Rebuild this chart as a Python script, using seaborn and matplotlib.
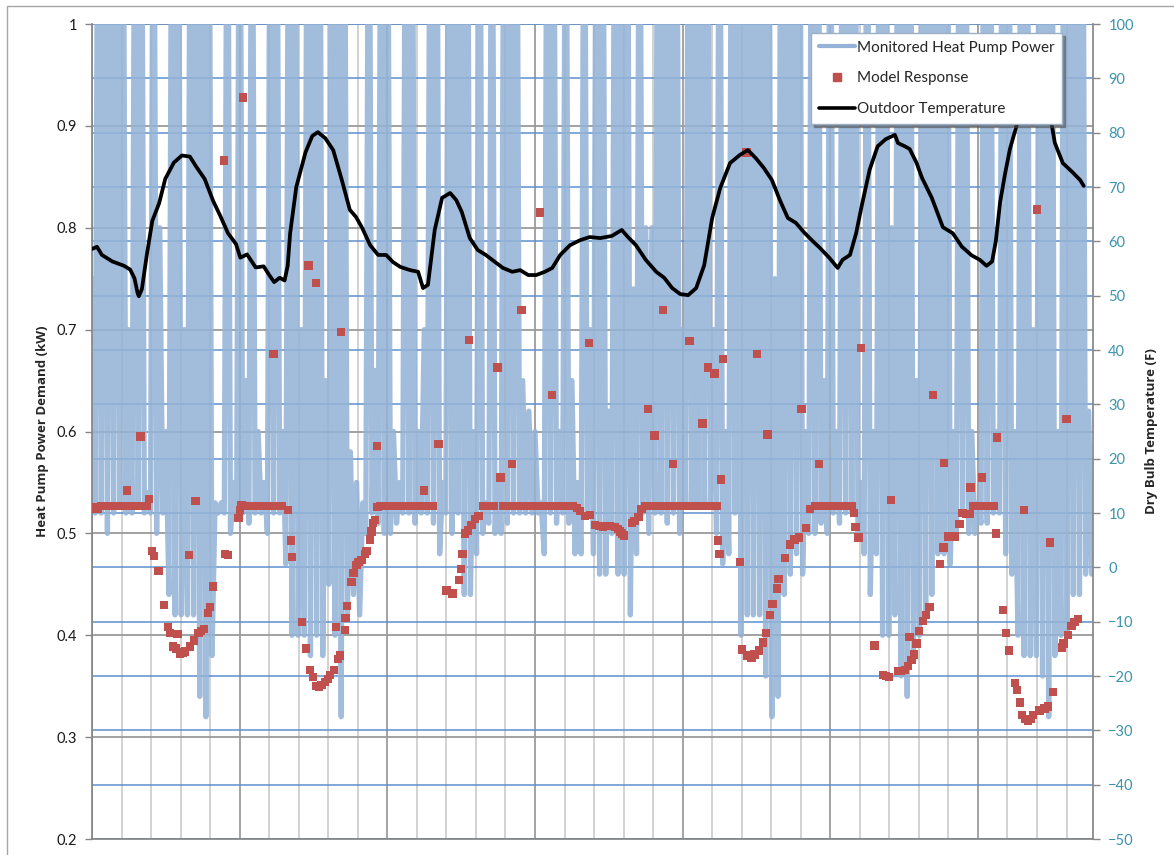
import numpy as np
import matplotlib
matplotlib.use('Agg')
import matplotlib.pyplot as plt
import matplotlib.transforms as mtransforms
from matplotlib.lines import Line2D
from matplotlib.patches import Rectangle
import seaborn as sns

# Monitored heat pump power (kW): one peak and one trough per hour, half an hour apart
power_peaks = [
    0.75, 1.3, 1.3, 1.3, 1.3, 1.3, 0.70, 1.3, 1.3, 0.54, 1.3, 0.80,
    0.60, 1.3, 1.3, 0.70, 1.3, 1.3, 1.3, 1.3, 0.53, 0.53, 1.3, 0.55,
    1.3, 0.65, 1.3, 0.60, 0.55, 1.3, 1.3, 0.60, 1.3, 1.3, 0.70, 1.3,
    1.3, 1.3, 0.65, 1.3, 1.3, 1.3, 0.58, 0.55, 0.53, 1.3, 0.66, 1.3,
    1.3, 0.60, 0.55, 1.3, 1.3, 0.60, 0.70, 1.3, 1.3, 0.55, 1.3, 1.3,
    1.3, 1.3, 0.60, 1.3, 0.53, 1.3, 0.55, 1.3, 1.3, 1.3, 0.65, 0.62,
    0.60, 0.53, 1.3, 1.3, 0.60, 1.3, 0.65, 0.55, 1.3, 0.70, 1.3, 1.3,
    0.62, 1.3, 1.3, 1.3, 0.74, 1.3, 0.80, 0.80, 1.3, 1.3, 1.3, 1.3,
    0.70, 1.3, 1.3, 1.3, 1.3, 0.70, 1.3, 0.60, 1.3, 1.3, 1.3, 1.3,
    1.3, 1.3, 1.3, 0.75, 1.3, 1.3, 1.3, 1.3, 0.60, 1.3, 1.3, 0.65,
    1.3, 0.60, 1.3, 1.3, 1.3, 0.55, 1.3, 0.60, 1.3, 1.3, 0.80, 1.3,
    1.3, 1.3, 0.65, 1.3, 1.3, 1.3, 1.3, 1.3, 0.60, 1.3, 1.3, 0.60,
    0.53, 1.3, 1.3, 0.60, 1.3, 1.3, 0.60, 1.3, 1.3, 0.70, 1.3, 1.3,
    1.3, 0.60, 1.3, 1.3, 1.3, 1.3, 0.62,
]
power_troughs = [
    0.52, 0.52, 0.50, 0.52, 0.53, 0.52, 0.52, 0.53, 0.52, 0.52, 0.50, 0.52,
    0.44, 0.42, 0.42, 0.42, 0.42, 0.34, 0.32, 0.38, 0.52, 0.52, 0.50, 0.52,
    0.52, 0.51, 0.52, 0.52, 0.50, 0.52, 0.52, 0.47, 0.40, 0.40, 0.40, 0.38,
    0.40, 0.38, 0.45, 0.40, 0.32, 0.42, 0.44, 0.42, 0.50, 0.52, 0.51, 0.50,
    0.50, 0.51, 0.52, 0.52, 0.51, 0.52, 0.52, 0.51, 0.48, 0.52, 0.50, 0.52,
    0.44, 0.44, 0.48, 0.50, 0.51, 0.50, 0.50, 0.51, 0.52, 0.52, 0.52, 0.52,
    0.52, 0.48, 0.52, 0.51, 0.52, 0.51, 0.48, 0.48, 0.52, 0.48, 0.46, 0.46,
    0.50, 0.46, 0.46, 0.42, 0.48, 0.52, 0.50, 0.52, 0.52, 0.51, 0.52, 0.50,
    0.53, 0.53, 0.53, 0.53, 0.53, 0.50, 0.47, 0.48, 0.52, 0.40, 0.42, 0.42,
    0.42, 0.36, 0.32, 0.34, 0.44, 0.46, 0.48, 0.46, 0.50, 0.50, 0.51, 0.50,
    0.52, 0.51, 0.52, 0.52, 0.50, 0.48, 0.44, 0.48, 0.40, 0.40, 0.42, 0.36,
    0.34, 0.38, 0.40, 0.42, 0.44, 0.48, 0.48, 0.47, 0.50, 0.52, 0.50, 0.50,
    0.51, 0.51, 0.52, 0.52, 0.48, 0.46, 0.40, 0.38, 0.38, 0.38, 0.36, 0.32,
    0.38, 0.40, 0.40, 0.44, 0.44, 0.46, 0.46,
]

# Model response (kW) at the times it was plotted (hours)
model_hours = [
    0.0, 0.5, 1.0, 1.5, 2.0, 2.4, 2.9, 3.4, 3.9, 4.4,
    4.9, 5.4, 5.7, 6.3, 6.8, 7.3, 7.9, 8.5, 8.9, 9.3,
    9.7, 10.1, 10.8, 11.7, 12.4, 12.7, 13.2, 13.7, 13.9, 14.3,
    14.7, 15.1, 15.8, 15.9, 16.6, 16.8, 17.3, 17.7, 18.2, 18.9,
    19.2, 19.7, 21.4, 21.6, 22.1, 23.8, 24.1, 24.3, 24.5, 24.9,
    25.4, 25.8, 26.3, 26.8, 27.3, 27.8, 28.3, 28.8, 29.5, 29.9,
    30.4, 30.9, 31.9, 32.3, 32.5, 34.1, 34.8, 35.2, 35.4, 35.9,
    36.4, 36.5, 36.9, 37.3, 37.9, 38.3, 38.7, 39.3, 39.7, 40.0,
    40.3, 40.5, 41.1, 41.2, 41.4, 42.2, 42.5, 43.0, 43.3, 43.8,
    44.4, 44.6, 45.2, 45.4, 45.7, 46.0, 46.3, 46.4, 46.8, 47.3,
    47.8, 48.3, 48.8, 49.2, 49.7, 50.2, 50.7, 51.2, 51.7, 52.2,
    52.7, 53.1, 53.6, 54.0, 54.6, 55.1, 55.4, 56.3, 57.6, 58.6,
    59.7, 60.0, 60.2, 60.6, 61.1, 61.3, 61.7, 62.2, 62.8, 63.6,
    64.0, 64.4, 64.8, 65.3, 65.9, 66.4, 66.8, 67.3, 67.8, 68.3,
    68.7, 69.2, 69.8, 70.2, 70.7, 71.2, 71.7, 72.2, 72.8, 73.1,
    73.6, 74.1, 74.8, 75.1, 75.6, 76.1, 77.2, 77.7, 78.1, 78.8,
    79.3, 80.1, 80.8, 80.9, 81.7, 82.4, 83.1, 83.6, 84.2, 85.0,
    85.5, 85.8, 86.1, 86.5, 87.8, 88.2, 88.8, 89.3, 89.9, 90.4,
    90.8, 91.4, 91.8, 92.3, 92.8, 93.3, 93.8, 94.4, 94.9, 95.4,
    95.9, 96.4, 97.1, 97.5, 98.0, 98.5, 99.2, 99.6, 100.1, 100.6,
    101.2, 101.5, 101.7, 102.0, 102.2, 102.6, 105.3, 105.7, 106.4, 106.5,
    107.2, 107.7, 108.1, 108.4, 109.1, 109.6, 109.8, 110.2, 110.6, 111.3,
    111.6, 112.6, 113.4, 114.2, 114.9, 115.3, 116.0, 116.7, 117.5, 118.0,
    118.2, 118.6, 119.1, 119.6, 120.1, 120.6, 121.1, 121.6, 122.0, 122.5,
    123.0, 123.5, 123.8, 124.1, 124.6, 125.0, 127.2, 128.6, 129.0, 129.5,
    129.9, 131.0, 131.4, 132.1, 132.6, 132.9, 133.2, 133.6, 134.0, 134.4,
    135.1, 135.6, 136.1, 136.7, 137.8, 138.4, 138.5, 139.2, 139.8, 140.3,
    141.0, 141.5, 142.1, 142.7, 142.8, 143.2, 143.7, 144.1, 144.7, 145.1,
    145.6, 146.1, 146.6, 146.9, 147.1, 148.1, 148.6, 149.1, 150.0, 150.4,
    150.8, 151.2, 151.5, 151.7, 152.1, 152.6, 152.9, 153.6, 154.0, 154.8,
    155.4, 155.7, 156.2, 157.7, 157.9, 158.4, 158.6, 159.2, 159.7, 160.3,
]
model_kw = [
    .524, .526, .524, .527, .527, .527, .527, .527, .527, .527,
    .527, .527, .542, .527, .527, .527, .595, .527, .527, .534,
    .483, .478, .463, .430, .408, .402, .389, .387, .401, .382,
    .383, .384, .479, .389, .395, .532, .402, .404, .406, .422,
    .428, .448, .866, .480, .479, .515, .523, .528, .928, .527,
    .527, .527, .527, .527, .527, .527, .527, .527, .676, .527,
    .527, .527, .523, .493, .477, .413, .387, .763, .366, .359,
    .746, .350, .349, .351, .354, .357, .361, .366, .408, .377,
    .380, .698, .405, .417, .429, .452, .461, .469, .472, .474,
    .480, .483, .494, .502, .510, .513, .586, .526, .527, .527,
    .527, .527, .527, .527, .527, .527, .527, .527, .527, .527,
    .527, .527, .527, .542, .527, .527, .527, .588, .444, .441,
    .454, .465, .480, .500, .503, .690, .508, .514, .517, .527,
    .527, .527, .527, .527, .663, .555, .527, .527, .527, .568,
    .527, .527, .719, .527, .527, .527, .527, .527, .815, .527,
    .527, .527, .636, .527, .527, .527, .527, .527, .527, .525,
    .522, .517, .687, .518, .508, .507, .506, .507, .507, .506,
    .504, .502, .500, .498, .510, .512, .516, .524, .527, .622,
    .527, .596, .527, .527, .719, .527, .527, .568, .527, .527,
    .527, .527, .689, .527, .527, .527, .608, .527, .663, .527,
    .657, .527, .493, .480, .553, .671, .472, .386, .874, .380,
    .378, .381, .676, .385, .393, .402, .597, .420, .431, .446,
    .455, .476, .489, .494, .496, .622, .505, .524, .527, .527,
    .568, .527, .527, .527, .527, .527, .527, .527, .527, .527,
    .527, .527, .520, .506, .496, .682, .390, .361, .360, .359,
    .533, .365, .365, .366, .370, .398, .376, .381, .392, .404,
    .414, .420, .428, .636, .470, .486, .569, .497, .497, .497,
    .509, .520, .519, .519, .545, .527, .527, .527, .555, .527,
    .527, .527, .527, .500, .594, .425, .402, .385, .353, .346,
    .334, .322, .523, .318, .316, .318, .322, .818, .326, .328,
    .330, .491, .344, .388, .392, .612, .400, .409, .413, .416,
]

# Outdoor dry bulb temperature (F)
temp_hours = [
    0.0, 0.8, 1.6, 3.3, 5.2, 6.2, 6.9, 7.4, 7.6, 8.1, 8.9, 9.8,
    10.9, 11.9, 13.3, 14.6, 15.9, 16.9, 18.3, 19.7, 20.8, 22.1, 23.4, 24.1,
    25.2, 26.6, 27.9, 28.8, 29.6, 30.5, 31.3, 31.8, 32.2, 33.2, 34.7, 35.8,
    36.7, 37.9, 39.2, 40.6, 41.9, 42.9, 43.9, 45.2, 46.5, 47.8, 48.9, 50.1,
    51.7, 53.0, 53.8, 54.6, 55.7, 56.9, 58.2, 59.2, 60.1, 61.4, 62.7, 64.0,
    65.5, 66.8, 68.3, 69.6, 70.9, 72.2, 73.6, 74.8, 76.1, 77.7, 79.3, 80.9,
    82.6, 84.5, 86.1, 87.1, 88.4, 90.0, 91.7, 93.0, 94.3, 95.6, 96.9, 98.2,
    99.5, 100.8, 102.1, 103.7, 105.3, 106.6, 107.9, 109.2, 110.5, 111.8, 113.1, 114.4,
    115.7, 117.0, 118.3, 119.9, 121.2, 122.0, 123.2, 124.2, 125.1, 126.4, 127.7, 129.0,
    130.5, 131.0, 132.1, 132.9, 134.0, 134.9, 136.5, 138.3, 139.9, 141.4, 143.0, 144.3,
    145.4, 146.3, 146.9, 147.6, 148.4, 149.2, 150.3, 152.1, 154.0, 155.3, 156.0, 156.5,
    157.8, 159.3, 160.6, 161.2,
]
temp_f = [
    58.6, 59.0, 57.5, 56.3, 55.5, 54.8, 53.2, 50.5, 49.9, 51.2, 57.5, 63.8,
    67.0, 71.5, 74.5, 75.8, 75.6, 73.8, 71.5, 67.4, 64.8, 61.5, 59.5, 57.0,
    57.6, 55.2, 55.4, 53.8, 52.5, 53.3, 52.8, 55.5, 61.5, 70.0, 76.4, 79.4,
    80.1, 79.0, 76.8, 71.3, 65.8, 64.5, 62.5, 59.3, 57.5, 57.5, 56.2, 55.3,
    54.7, 54.4, 51.4, 52.0, 62.1, 68.0, 68.9, 67.6, 65.4, 60.6, 58.4, 57.5,
    56.2, 55.1, 54.4, 54.7, 53.8, 53.8, 54.4, 55.1, 57.5, 59.3, 60.2, 60.8,
    60.6, 61.0, 62.1, 60.8, 59.3, 56.6, 54.4, 53.3, 51.4, 50.3, 50.1, 51.4,
    55.6, 64.3, 69.8, 74.4, 75.9, 76.8, 75.3, 73.5, 71.3, 67.6, 64.3, 63.4,
    61.7, 60.2, 58.8, 56.9, 55.1, 56.6, 57.5, 61.5, 66.5, 73.2, 77.5, 78.8,
    79.6, 78.1, 77.5, 77.0, 74.5, 71.7, 68.0, 62.6, 61.5, 59.0, 57.4, 56.6,
    55.5, 56.3, 60.0, 67.2, 72.4, 77.0, 81.4, 85.5, 87.0, 85.0, 81.4, 78.1,
    74.4, 72.8, 71.3, 70.2,
]

left_ticks = [0.2, 0.3, 0.4, 0.5, 0.6, 0.7, 0.8, 0.9, 1.0]
left_labels = ['0.2', '0.3', '0.4', '0.5', '0.6', '0.7', '0.8', '0.9', '1']
right_ticks = list(range(-50, 101, 10))

power_kw = np.column_stack([power_peaks, power_troughs]).ravel()
power_hours = np.arange(len(power_kw)) * 0.5

sns.set_theme(style='white')
plt.rcParams['font.family'] = ['Lato', 'DejaVu Sans']

fig = plt.figure(figsize=(11.74, 8.55), dpi=100)
ax = fig.add_axes([0.0784, 0.0187, 0.8526, 0.9532])
ax2 = ax.twinx()

ax.set_xlim(0, 162.7)
ax.set_ylim(0.2, 1.0)
ax2.set_ylim(-50, 100)

# grid: grey for the kW axis, blue for the temperature axis, both behind the data
ax.set_axisbelow(True)
ax.set_xticks(np.arange(0, 163, 24))
ax.set_xticks(np.arange(0, 163, 4.8), minor=True)
ax.grid(which='minor', axis='x', color='#C6C6C6', lw=1.1)
ax.grid(which='major', axis='x', color='#8A8A8A', lw=1.1)
ax.grid(which='major', axis='y', color='#9A9A9A', lw=1.3)
blend = mtransforms.blended_transform_factory(ax.transAxes, ax2.transData)
for v in right_ticks:
    ax.add_line(Line2D([0, 1], [v, v], transform=blend, color='#5B8FD0',
                       lw=1.1, zorder=0.9))

sns.lineplot(x=power_hours, y=power_kw, ax=ax, color='#95B3D7', alpha=0.88,
             lw=3.8, estimator=None, sort=False, legend=False, zorder=2)
sns.scatterplot(x=model_hours, y=model_kw, ax=ax, marker='s', s=36,
                color='#C0504D', edgecolor='none', legend=False, zorder=3)
sns.lineplot(x=temp_hours, y=temp_f, ax=ax2, color='black', lw=2.7,
             estimator=None, sort=False, legend=False, zorder=4)

ax.set_yticks(left_ticks)
ax.set_yticklabels(left_labels)
ax2.set_yticks(right_ticks)
ax.tick_params(axis='x', which='both', length=0, labelbottom=False, bottom=False)
ax.tick_params(axis='y', which='major', left=True, direction='out', length=5,
               width=1, color='#868686', labelsize=10.5, labelcolor='#1A1A1A', pad=6)
ax2.tick_params(axis='y', right=True, direction='out', length=5, width=1,
                color='#868686', labelsize=10.5, labelcolor='#3C93AE', pad=6)

for s in ['left', 'bottom']:
    ax.spines[s].set_color('#868686')
ax.spines['top'].set_visible(False)
ax.spines['right'].set_visible(False)
for s in ['left', 'bottom', 'top']:
    ax2.spines[s].set_visible(False)
ax2.spines['right'].set_color('#868686')

ax.set_ylabel('Heat Pump Power Demand (kW)', fontsize=9.5, fontweight='bold',
              family=['Open Sans', 'DejaVu Sans'], labelpad=5)
ax2.set_ylabel('Dry Bulb Temperature (F)', fontsize=9.5, fontweight='bold',
               family=['Open Sans', 'DejaVu Sans'], labelpad=8)

handles = [
    Line2D([], [], color='#95B3D7', lw=3),
    Line2D([], [], color='#C0504D', marker='s', ls='none', markersize=6),
    Line2D([], [], color='black', lw=2.6),
]
labels = ['Monitored Heat Pump Power', 'Model Response', 'Outdoor Temperature']
leg = ax2.legend(handles, labels, loc='upper right', bbox_to_anchor=(0.969, 0.989),
                 borderaxespad=0, fontsize=11, frameon=True, fancybox=False,
                 shadow=True, framealpha=1, edgecolor='#9AAFC8',
                 labelspacing=1.1, handlelength=2.4, handletextpad=0.1,
                 borderpad=0.5)
leg.get_frame().set_linewidth(1)
leg.set_zorder(10)

# outer chart border
fig.add_artist(Rectangle((7 / 1174, -0.05), 1.1, 0.05 + 1 - 6 / 855,
                         transform=fig.transFigure, fill=False,
                         edgecolor='#A6A6A6', lw=1))

fig.savefig('out.png', dpi=100)
